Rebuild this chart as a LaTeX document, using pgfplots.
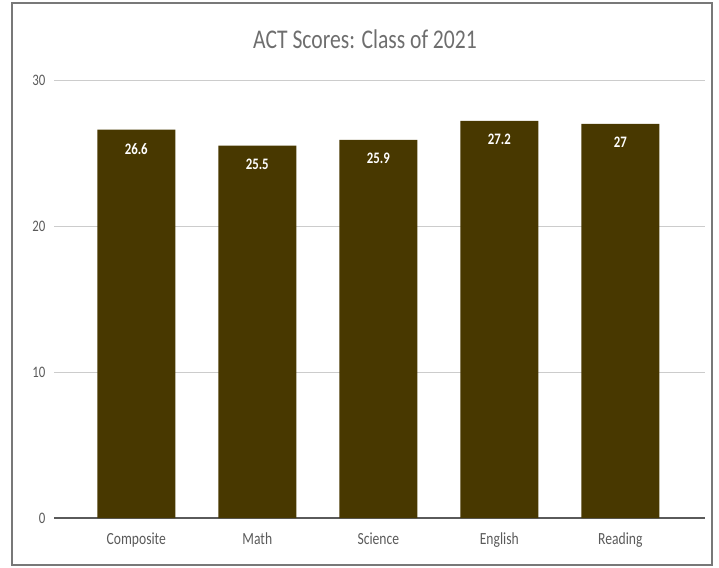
\documentclass[border=0pt]{standalone}
\usepackage{fontspec}
\setmainfont{Carlito}[FakeStretch=0.8]
\usepackage{pgfplots}
\pgfplotsset{compat=1.18}
\definecolor{barcol}{RGB}{72,56,0}
\definecolor{titlecol}{RGB}{110,110,110}
\definecolor{tickcol}{RGB}{90,90,90}
\definecolor{gridcol}{RGB}{204,204,204}
\definecolor{axcol}{RGB}{90,90,90}
\definecolor{framecol}{RGB}{120,120,120}
\begin{document}
\begin{tikzpicture}
\path[use as bounding box] (0,0) rectangle (719pt,567pt);
\draw[framecol, line width=1.3pt] (12pt,2pt) rectangle (712pt,564pt);
\node[titlecol, font=\fontsize{27}{30}\selectfont] at (365pt,528pt) {ACT Scores: Class of 2021};
\begin{axis}[
  at={(54pt,49pt)}, anchor=south west,
  scale only axis, width=651pt, height=438pt,
  ymin=0, ymax=30, xmin=-0.68, xmax=4.7,
  ytick={0,10,20,30},
  xtick={0,1,2,3,4},
  xticklabels={Composite,Math,Science,English,Reading},
  axis lines*=left,
  y axis line style={draw=none},
  x axis line style={draw=axcol, line width=1.4pt},
  major tick length=0pt,
  ymajorgrids,
  grid style={gridcol, line width=0.9pt},
  /pgf/number format/assume math mode=true,
  yticklabel style={font=\fontsize{16}{18}\selectfont, text=tickcol, xshift=-5pt},
  xticklabel style={font=\fontsize{17}{19}\selectfont, text=tickcol, yshift=-11pt},
  ybar, bar width=78pt,
  nodes near coords,
  every node near coord/.append style={anchor=north, yshift=-10pt, text=white, font=\bfseries\fontsize{16}{18}\selectfont},
]
\addplot[fill=barcol, draw=none] coordinates {(0,26.6) (1,25.5) (2,25.9) (3,27.2) (4,27)};
\end{axis}
\end{tikzpicture}
\end{document}
